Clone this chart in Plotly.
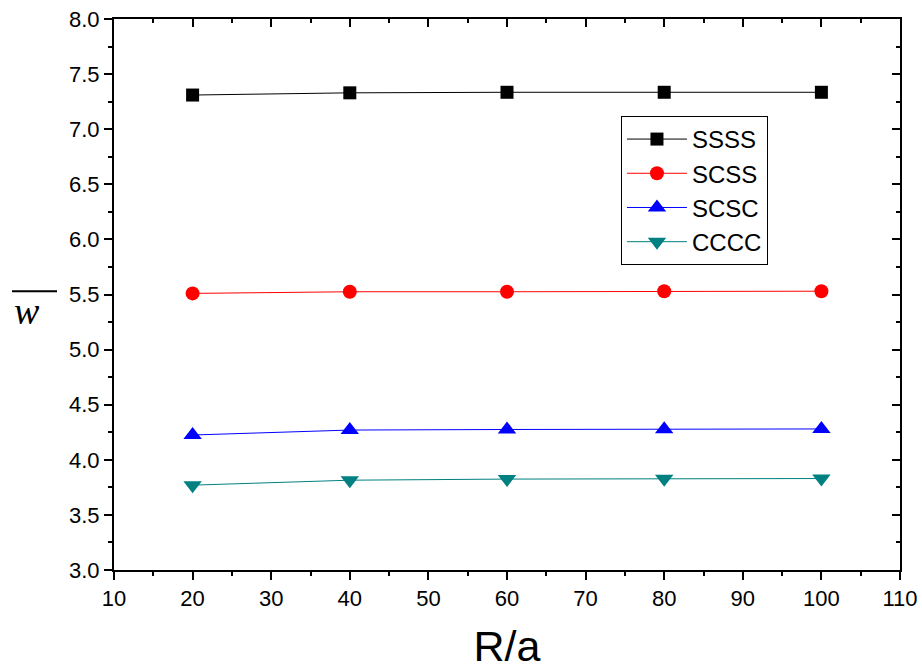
import plotly.graph_objects as go

x_vals = [20, 40, 60, 80, 100]
ssss = [7.31, 7.33, 7.335, 7.335, 7.335]
scss = [5.51, 5.525, 5.525, 5.53, 5.53]
scsc = [4.225, 4.27, 4.275, 4.278, 4.28]
cccc = [3.77, 3.815, 3.825, 3.828, 3.83]

series = [
    ("SSSS", ssss, "#000000", "square", 13),
    ("SCSS", scss, "#FF0000", "circle", 14),
    ("SCSC", scsc, "#0000FF", "triangle-up", 16),
    ("CCCC", cccc, "#008080", "triangle-down", 16),
]

fig = go.Figure()
for name, ys, col, sym, sz in series:
    fig.add_trace(go.Scatter(
        x=x_vals, y=ys, name=name, mode="lines+markers",
        line=dict(color=col, width=1),
        marker=dict(symbol=sym, size=sz, color=col, line=dict(width=0)),
    ))

# invisible trace to activate mirror axes with inside ticks
fig.add_trace(go.Scatter(x=[10], y=[3], xaxis="x2", yaxis="y2",
                         mode="markers", marker=dict(opacity=0),
                         showlegend=False, hoverinfo="skip"))

tickfont = dict(family="Arial, Liberation Sans", size=22, color="black")

fig.update_layout(
    width=922, height=670,
    margin=dict(l=114, r=22, t=19, b=100, autoexpand=False),
    plot_bgcolor="white", paper_bgcolor="white",
    font=dict(family="Arial, Liberation Sans", color="black"),
    xaxis=dict(
        range=[10, 110], dtick=10, tick0=10, automargin=False,
        ticks="outside", ticklen=8, tickwidth=2, tickcolor="black",
        minor=dict(ticks="outside", ticklen=4, tickwidth=2, dtick=5, tickcolor="black"),
        showline=True, linewidth=2, linecolor="black",
        showgrid=False, zeroline=False, tickfont=tickfont,
        title=dict(text="R/a", font=dict(family="Arial, Liberation Sans", size=43), standoff=20),
    ),
    yaxis=dict(
        range=[3.0, 8.0], dtick=0.5, tick0=3.0, tickformat=".1f", automargin=False,
        ticks="outside", ticklen=8, tickwidth=2, tickcolor="black",
        minor=dict(ticks="outside", ticklen=4, tickwidth=2, dtick=0.25, tickcolor="black"),
        showline=True, linewidth=2, linecolor="black",
        showgrid=False, zeroline=False, tickfont=tickfont,
    ),
    xaxis2=dict(
        overlaying="x", side="top", range=[10, 110], dtick=10, tick0=10, automargin=False,
        ticks="inside", ticklen=8, tickwidth=2, tickcolor="black",
        minor=dict(ticks="inside", ticklen=4, tickwidth=2, dtick=5, tickcolor="black"),
        showline=True, linewidth=2, linecolor="black",
        showticklabels=False, showgrid=False, zeroline=False,
    ),
    yaxis2=dict(
        overlaying="y", side="right", range=[3.0, 8.0], dtick=0.5, tick0=3.0, automargin=False,
        ticks="inside", ticklen=8, tickwidth=2, tickcolor="black",
        minor=dict(ticks="inside", ticklen=4, tickwidth=2, dtick=0.25, tickcolor="black"),
        showline=True, linewidth=2, linecolor="black",
        showticklabels=False, showgrid=False, zeroline=False,
    ),
    legend=dict(
        x=0.645, y=0.824, xanchor="left", yanchor="top",
        bordercolor="black", borderwidth=1, bgcolor="white",
        font=dict(family="Arial, Liberation Sans", size=24, color="black"),
        itemwidth=60, tracegroupgap=0,
    ),
    showlegend=True,
)

# y-axis title: italic w with overbar
fig.add_annotation(
    xref="paper", yref="paper", x=-0.111, y=0.47,
    text="<i>w</i>", showarrow=False,
    font=dict(family="Liberation Serif, Times New Roman", size=38, color="black"),
    xanchor="center", yanchor="middle",
)
fig.add_shape(type="line", xref="paper", yref="paper",
              x0=-0.1298, x1=-0.0725, y0=0.506, y1=0.506,
              line=dict(color="black", width=2))

fig.write_html("out.html")
